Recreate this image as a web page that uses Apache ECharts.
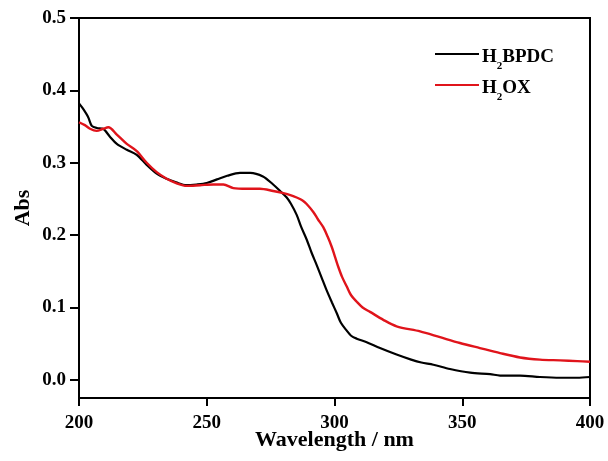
<!DOCTYPE html>
<html>
<head>
<meta charset="utf-8">
<script src="https://cdn.jsdelivr.net/npm/echarts@6/dist/echarts.min.js"></script>
<style>
  html, body { margin: 0; padding: 0; background: #fff; }
  #chart { width: 608px; height: 461px; }
</style>
</head>
<body>
<div id="chart"></div>
<script>
// UV-Vis absorption spectra of the two ligands
const seriesNames = ['H2BPDC', 'H2OX'];

const bpdcWavelength = [200, 201.5, 203.6, 205, 207, 209.4, 212.1, 214.8, 218.7, 222.6, 226.5, 230.4, 234.3, 238, 242, 246, 250, 254, 258, 263, 267, 272, 276, 279, 281.3, 283, 285.2, 287, 289.1, 291, 293, 295, 296.9, 299, 300.9, 302.5, 304.8, 306.5, 308.7, 312.6, 317.8, 324.3, 330, 334, 338.7, 345.2, 353.1, 360.9, 364.8, 372.6, 380.4, 388.3, 395, 400];
const bpdcAbs = [0.382, 0.375, 0.363, 0.351, 0.348, 0.347, 0.336, 0.326, 0.318, 0.311, 0.297, 0.285, 0.278, 0.273, 0.269, 0.270, 0.272, 0.277, 0.282, 0.286, 0.286, 0.281, 0.270, 0.260, 0.252, 0.243, 0.228, 0.211, 0.194, 0.176, 0.159, 0.141, 0.124, 0.107, 0.092, 0.079, 0.068, 0.061, 0.057, 0.052, 0.044, 0.035, 0.028, 0.024, 0.021, 0.015, 0.010, 0.008, 0.006, 0.006, 0.004, 0.003, 0.003, 0.004];

const oxWavelength = [200, 202.3, 204.3, 206.9, 209.5, 211.5, 214.8, 218.7, 222.6, 226.5, 230.4, 234.3, 238, 242.2, 247.4, 252.6, 256.5, 260.4, 265.6, 270.8, 276, 280, 283, 285.2, 287.5, 289.1, 291.7, 293.5, 295.6, 297.3, 298.9, 300.2, 301.5, 303, 304.8, 306.5, 308.7, 311, 313.9, 319.1, 324.3, 333.5, 341.3, 349.1, 356.9, 364.8, 372.6, 380.4, 388.3, 395, 400];
const oxAbs = [0.356, 0.352, 0.347, 0.344, 0.347, 0.349, 0.339, 0.326, 0.316, 0.300, 0.287, 0.278, 0.272, 0.268, 0.269, 0.270, 0.270, 0.265, 0.264, 0.264, 0.261, 0.258, 0.255, 0.252, 0.248, 0.243, 0.232, 0.222, 0.211, 0.198, 0.184, 0.170, 0.156, 0.142, 0.129, 0.117, 0.108, 0.100, 0.094, 0.083, 0.074, 0.067, 0.059, 0.051, 0.044, 0.037, 0.031, 0.028, 0.027, 0.026, 0.025];

const yTicks = [0, 0.1, 0.2, 0.3, 0.4, 0.5];
const xTicks = [200, 250, 300, 350, 400];

const FONT = '"Liberation Serif", "Times New Roman", serif';
const pairs = (xs, ys) => xs.map((x, i) => [x, ys[i]]);

const chart = echarts.init(document.getElementById('chart'), null, { renderer: 'canvas' });
chart.setOption({
  animation: false,
  backgroundColor: '#fff',
  grid: {
    left: 79, right: 18, top: 18, bottom: 63,
    outerBoundsMode: 'none', containLabel: false,
    show: true, borderColor: '#000', borderWidth: 2, backgroundColor: 'transparent'
  },
  legend: {
    orient: 'vertical',
    left: 430, top: 39,
    icon: 'rect', itemWidth: 44, itemHeight: 2, itemGap: 0,
    data: seriesNames,
    formatter: name => name === 'H2BPDC' ? '{b|H}{s|2}{b|BPDC}' : '{b|H}{s|2}{b|OX}',
    textStyle: {
      padding: [0, 0, 0, -2],
      rich: {
        // main glyphs and a lowered subscript digit share one 32px line box
        b: { fontFamily: FONT, fontWeight: 'bold', fontSize: 19, color: '#000', lineHeight: 20, verticalAlign: 'top', padding: [4, 0, 8, 0] },
        s: { fontFamily: FONT, fontWeight: 'bold', fontSize: 11, color: '#000', lineHeight: 12, verticalAlign: 'top', padding: [17, 0, 3, 0] }
      }
    }
  },
  xAxis: {
    type: 'value', min: xTicks[0], max: xTicks[xTicks.length - 1], interval: 50,
    name: 'Wavelength / nm', nameLocation: 'middle', nameGap: 31, nameMoveOverlap: false,
    nameTextStyle: { fontFamily: FONT, fontWeight: 'bold', fontSize: 22, color: '#000' },
    axisLine: { onZero: false, lineStyle: { color: '#000', width: 2 } },
    axisTick: { inside: false, length: 8, lineStyle: { color: '#000', width: 2 } },
    axisLabel: { fontFamily: FONT, fontWeight: 'bold', fontSize: 19, color: '#000', margin: 16 },
    splitLine: { show: false }
  },
  yAxis: {
    type: 'value', min: -0.025, max: 0.5,
    name: 'Abs', nameLocation: 'middle', nameGap: 45, nameRotate: 90, nameMoveOverlap: false,
    nameTextStyle: { fontFamily: FONT, fontWeight: 'bold', fontSize: 22, color: '#000' },
    axisLine: { onZero: false, lineStyle: { color: '#000', width: 2 } },
    axisTick: { inside: false, length: 9, lineStyle: { color: '#000', width: 2 }, customValues: yTicks },
    axisLabel: {
      fontFamily: FONT, fontWeight: 'bold', fontSize: 19, color: '#000', margin: 13,
      customValues: yTicks, formatter: v => v.toFixed(1)
    },
    splitLine: { show: false }
  },
  series: [
    {
      name: seriesNames[0], type: 'line', data: pairs(bpdcWavelength, bpdcAbs),
      symbol: 'none', smooth: 0.3, lineStyle: { color: '#000', width: 2.2 }, itemStyle: { color: '#000' }
    },
    {
      name: seriesNames[1], type: 'line', data: pairs(oxWavelength, oxAbs),
      symbol: 'none', smooth: 0.3, lineStyle: { color: '#e0141b', width: 2.4 }, itemStyle: { color: '#e0141b' }
    }
  ]
});
</script>
</body>
</html>
